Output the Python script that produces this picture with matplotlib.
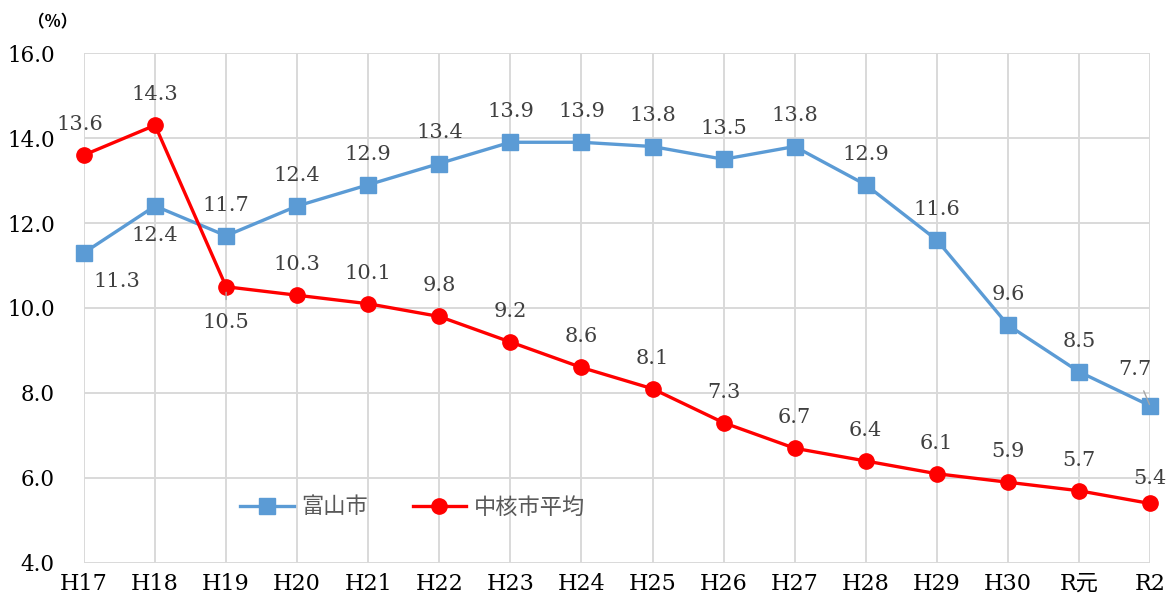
import matplotlib.pyplot as plt
import numpy as np

# data
years = ['H17', 'H18', 'H19', 'H20', 'H21', 'H22', 'H23', 'H24', 'H25', 'H26',
         'H27', 'H28', 'H29', 'H30', 'R元', 'R2']
toyama = [11.3, 12.4, 11.7, 12.4, 12.9, 13.4, 13.9, 13.9, 13.8, 13.5,
          13.8, 12.9, 11.6, 9.6, 8.5, 7.7]
chukaku = [13.6, 14.3, 10.5, 10.3, 10.1, 9.8, 9.2, 8.6, 8.1, 7.3,
           6.7, 6.4, 6.1, 5.9, 5.7, 5.4]

serif = ['DejaVu Serif', 'Noto Sans CJK JP']
cjk = ['Noto Sans CJK JP', 'DejaVu Sans']

blue = '#5b9bd5'
red = '#ff0000'

fig = plt.figure(figsize=(11.68, 6.06), dpi=100)
ax = fig.add_axes([0.0719, 0.071, 0.9127, 0.8415])

x = np.arange(len(years))
ax.plot(x, toyama, color=blue, lw=2.4, marker='s', ms=11, label='富山市',
        clip_on=False, zorder=3)
ax.plot(x, chukaku, color=red, lw=2.4, marker='o', ms=11, label='中核市平均',
        clip_on=False, zorder=3)

ax.set_xlim(0, len(years) - 1)
ax.set_ylim(4, 16)
ax.set_yticks(np.arange(4, 16.1, 2))
ax.set_yticklabels([f'{v:.1f}' for v in np.arange(4, 16.1, 2)], family=serif,
                   fontsize=15.5)
ax.set_xticks(x)
ax.set_xticklabels(years, family=serif, fontsize=16)
ax.tick_params(axis='y', length=0, pad=21)
ax.tick_params(axis='x', length=0, pad=7)
ax.grid(True, color='#d9d9d9', lw=1.4)
ax.set_axisbelow(True)
for s in ax.spines.values():
    s.set_visible(False)

lab = dict(family=serif, fontsize=15, color='#404040', ha='center', va='center')
lead = dict(arrowstyle='-', color='#a6a6a6', lw=1)

# label offsets (points); default above
off_t = {0: (24, -21), 1: (0, -21)}
off_c = {0: (-3, 22), 2: (0, -26), 15: (0, 18)}
for i, v in enumerate(toyama):
    if i == 15:
        ax.annotate(f'{v}', (i, v), xytext=(-11, 26), textcoords='offset points',
                    arrowprops=dict(lead, shrinkA=7, shrinkB=1), **lab)
    else:
        ax.annotate(f'{v}', (i, v), xytext=off_t.get(i, (0, 22)),
                    textcoords='offset points', **lab)
for i, v in enumerate(chukaku):
    if i == 2:
        ax.annotate(f'{v}', (i, v), xytext=off_c[i], textcoords='offset points',
                    arrowprops=dict(lead, shrinkA=8, shrinkB=4), **lab)
    else:
        ax.annotate(f'{v}', (i, v), xytext=off_c.get(i, (0, 22)),
                    textcoords='offset points', **lab)

leg = ax.legend(loc='lower left', bbox_to_anchor=(0.128, 0.048), ncol=2, frameon=False,
                prop={'family': cjk, 'size': 16}, handlelength=2.4, columnspacing=2.0,
                handletextpad=0.35)
for t in leg.get_texts():
    t.set_color('#595959')

fig.text(0.024, 0.963, '（%）', family=cjk, fontsize=12, fontweight='bold',
         ha='left', va='center')

fig.savefig('out.png', dpi=100)
